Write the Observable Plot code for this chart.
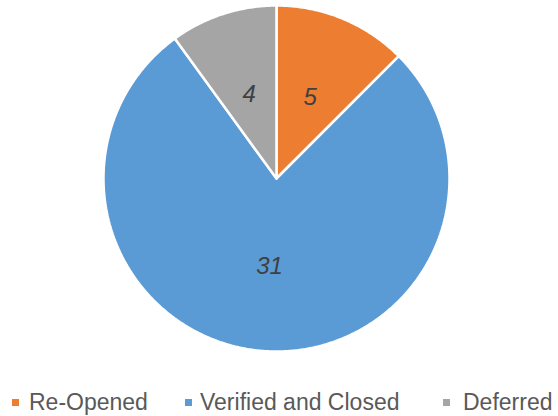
<!DOCTYPE html>
<html>
<head>
<meta charset="utf-8">
<script src="https://cdn.jsdelivr.net/npm/d3@7"></script>
<script src="https://cdn.jsdelivr.net/npm/@observablehq/plot@0.6"></script>
<style>
  html, body { margin: 0; padding: 0; background: #fff; }
  #wrap { position: relative; width: 558px; height: 416px; overflow: hidden; font-family: "Liberation Sans", Arial, sans-serif; }
  #chart { position: absolute; left: 0; top: 0; }
  .leg { position: absolute; top: 390px; height: 26px; font-size: 23px; color: #595959; white-space: nowrap; }
  .sw { position: absolute; width: 7px; height: 7px; top: 9px; }
  .lt { position: absolute; top: 0px; line-height: 24px; }
</style>
</head>
<body>
<div id="wrap">
  <div id="chart"></div>
</div>
<script>
const categories = ["Re-Opened", "Verified and Closed", "Deferred"];
const values = [5, 31, 4];
const colors = ["#ED7D31", "#5B9BD5", "#A5A5A5"];

// pie geometry via d3.pie (clockwise from 12 o'clock)
const arcs = d3.pie().sort(null).value(d => d.value)(
  categories.map((c, i) => ({cat: c, value: values[i]}))
);

const poly = [];
const labels = [];
arcs.forEach(a => {
  const cat = a.data.cat;
  poly.push({cat, x: 0, y: 0});
  const n = Math.max(2, Math.ceil((a.endAngle - a.startAngle) / (Math.PI / 360)));
  for (let k = 0; k <= n; k++) {
    const t = a.startAngle + (a.endAngle - a.startAngle) * k / n;
    poly.push({cat, x: Math.sin(t), y: Math.cos(t)});
  }
  poly.push({cat, x: 0, y: 0});
  const m = (a.startAngle + a.endAngle) / 2;
  labels.push({cat, value: a.data.value, x: 0.51 * Math.sin(m), y: 0.51 * Math.cos(m)});
});

const chart = Plot.plot({
  width: 558,
  height: 380,
  marginLeft: 103,
  marginRight: 109,
  marginTop: 5,
  marginBottom: 29,
  x: {domain: [-1, 1], axis: null},
  y: {domain: [-1, 1], axis: null},
  color: {domain: categories, range: colors, legend: false},
  style: {background: "white"},
  marks: [
    Plot.line(poly, {x: "x", y: "y", z: "cat", fill: "cat", stroke: "white", strokeWidth: 2.5, strokeLinejoin: "miter"}),
    Plot.text(labels, {x: "x", y: "y", text: d => String(d.value), fill: "#404040", fontSize: 24, fontStyle: "italic", fontFamily: "Liberation Sans, Arial, sans-serif"})
  ]
});
document.getElementById("chart").appendChild(chart);

// legend (HTML, below the SVG)
const legSwatchX = [12, 185, 443];
const legTextX = [29, 200, 463];
const wrap = document.getElementById("wrap");
categories.forEach((c, i) => {
  const sw = document.createElement("div");
  sw.className = "leg";
  sw.style.left = "0px";
  sw.innerHTML = `<span class="sw" style="left:${legSwatchX[i]}px;background:${colors[i]}"></span><span class="lt" style="left:${legTextX[i]}px">${c}</span>`;
  wrap.appendChild(sw);
});
</script>
</body>
</html>
